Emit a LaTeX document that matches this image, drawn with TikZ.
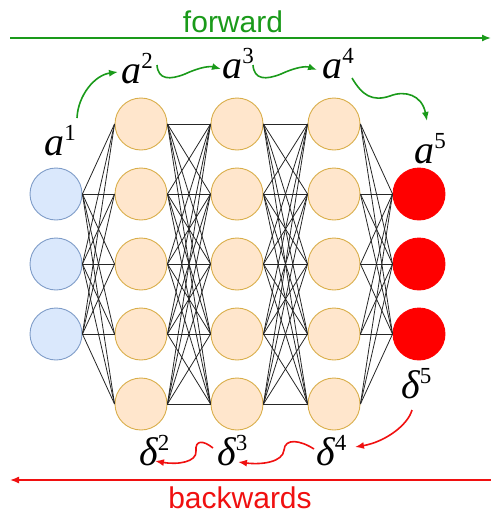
\documentclass[tikz,border=0pt]{standalone}
\usepackage{fontspec}
\usetikzlibrary{arrows.meta}
\newfontfamily\seriff{Liberation Serif}
\newfontfamily\sansf{Liberation Sans}
\definecolor{inblue}{HTML}{DAE8FC}
\definecolor{inborder}{HTML}{7E9CC8}
\definecolor{hidfill}{HTML}{FFE6CC}
\definecolor{hidborder}{HTML}{D9AE4A}
\definecolor{fwdgreen}{HTML}{1A9A1A}
\definecolor{bwdred}{HTML}{F01010}
\newcommand\lbl[2]{{\seriff\itshape\fontsize{20}{20}\selectfont #1}\raisebox{7.5pt}{\seriff\fontsize{11.5}{11.5}\selectfont #2}}
\tikzset{
  neuron/.style={circle,minimum size=26pt,inner sep=0pt,line width=0.45pt},
  inneuron/.style={neuron,fill=inblue,draw=inborder},
  hidneuron/.style={neuron,fill=hidfill,draw=hidborder},
  outneuron/.style={neuron,fill=red,draw=red},
  link/.style={draw=black!85,line width=0.4pt},
  lblnode/.style={inner sep=0pt,anchor=base west},
  fwd/.style={draw=fwdgreen,line width=0.8pt,-{Latex[length=4.5pt,width=3.5pt]}},
  bwd/.style={draw=bwdred,line width=0.8pt,-{Latex[length=4.5pt,width=3.5pt]}}
}
\begin{document}
\begin{tikzpicture}[x=0.5pt,y=-0.5pt]
\useasboundingbox (0,0) rectangle (491,515);
% input layer
\node[inneuron] (i1) at (56,194) {};
\node[inneuron] (i2) at (56,264) {};
\node[inneuron] (i3) at (56,334) {};
% hidden layers
\node[hidneuron] (p1) at (141,124) {};
\node[hidneuron] (p2) at (141,194) {};
\node[hidneuron] (p3) at (141,264) {};
\node[hidneuron] (p4) at (141,334) {};
\node[hidneuron] (p5) at (141,404) {};
\node[hidneuron] (q1) at (237,124) {};
\node[hidneuron] (q2) at (237,194) {};
\node[hidneuron] (q3) at (237,264) {};
\node[hidneuron] (q4) at (237,334) {};
\node[hidneuron] (q5) at (237,404) {};
\node[hidneuron] (r1) at (334,124) {};
\node[hidneuron] (r2) at (334,194) {};
\node[hidneuron] (r3) at (334,264) {};
\node[hidneuron] (r4) at (334,334) {};
\node[hidneuron] (r5) at (334,404) {};
% output layer
\node[outneuron] (o1) at (419,194) {};
\node[outneuron] (o2) at (419,264) {};
\node[outneuron] (o3) at (419,334) {};
% weights
\foreach \i in {1,2,3} \foreach \j in {1,...,5} \draw[link] (i\i.east) -- (p\j.west);
\foreach \i in {1,...,5} \foreach \j in {1,...,5} \draw[link] (p\i.east) -- (q\j.west);
\foreach \i in {1,...,5} \foreach \j in {1,...,5} \draw[link] (q\i.east) -- (r\j.west);
\foreach \i in {1,...,5} \foreach \j in {1,2,3} \draw[link] (r\i.east) -- (o\j.west);
% activations
\node[lblnode] (a1) at (44,155) {\lbl{a}{1}};
\node[lblnode] (a2) at (121,83) {\lbl{a}{2}};
\node[lblnode] (a3) at (222,78) {\lbl{a}{3}};
\node[lblnode] (a4) at (322,78) {\lbl{a}{4}};
\node[lblnode] (a5) at (414,163) {\lbl{a}{5}};
% errors
\node[lblnode] (d2) at (139,465) {\lbl{δ}{2}};
\node[lblnode] (d3) at (217,465) {\lbl{δ}{3}};
\node[lblnode] (d4) at (316,465) {\lbl{δ}{4}};
\node[lblnode] (d5) at (401,398) {\lbl{δ}{5}};
% forward pass
\node[text=fwdgreen,anchor=base] (fw) at (233,32) {\sansf\fontsize{15}{15}\selectfont forward};
\coordinate (fwl) at (10,38);
\coordinate (fwr) at (491,38);
\draw[draw=fwdgreen,line width=0.7pt,-{Latex[length=4.5pt,width=3.5pt]}] (fwl) -- (fwr);
\draw[fwd] ([shift={(33,-37)}]a1.base west) .. controls (78,95) and (95,75) .. ([shift={(-3,-11)}]a2.base west);
\draw[fwd] ([shift={(36,-18)}]a2.base west) .. controls (158,80) and (170,80) .. (185,74) .. controls (200,67) and (210,66) .. ([shift={(-1,-9)}]a3.base west);
\draw[fwd] ([shift={(31,-13)}]a3.base west) .. controls (254,80) and (266,80) .. (281,74) .. controls (296,67) and (306,66) .. ([shift={(-5,-8)}]a4.base west);
\draw[fwd] ([shift={(30,0)}]a4.base west) .. controls (362,95) and (372,102) .. (390,96) .. controls (405,90) and (422,95) .. ([shift={(13,-42)}]a5.base west);
% backward pass
\node[text=bwdred,anchor=base] (bw) at (240,508) {\sansf\fontsize{15}{15}\selectfont backwards};
\coordinate (bwl) at (10,480);
\coordinate (bwr) at (491,480);
\draw[draw=bwdred,line width=0.7pt,-{Latex[length=4.5pt,width=3.5pt]}] (bwr) -- (bwl);
\draw[bwd] ([shift={(11,12)}]d5.base west) .. controls (408,425) and (385,442) .. ([shift={(39,-18)}]d4.base west);
\draw[bwd] ([shift={(-2,-16)}]d4.base west) .. controls (300,440) and (285,438) .. (284,450) .. controls (283,462) and (262,465) .. ([shift={(21,-3)}]d3.base west);
\draw[bwd] ([shift={(-4,-17)}]d3.base west) .. controls (203,440) and (195,440) .. (196,451) .. controls (197,462) and (178,465) .. ([shift={(16,-4)}]d2.base west);
\end{tikzpicture}
\end{document}
